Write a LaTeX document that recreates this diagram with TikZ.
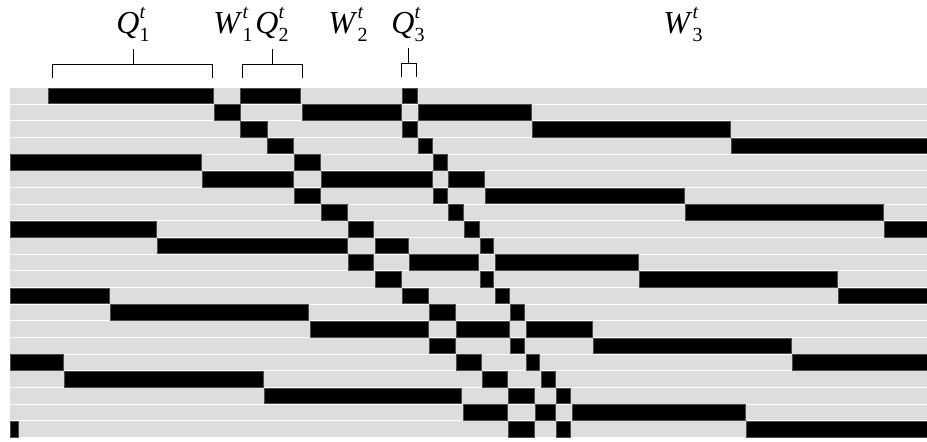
\documentclass[tikz,border=0pt]{standalone}
\usepackage{fontspec}
\setmainfont{Liberation Serif}

\definecolor{lanegray}{RGB}{221,221,221}

\tikzset{
  lane/.style={fill=lanegray},
  job/.style={fill=black,draw=black!70,line width=0.6pt},
  tag/.style={font=\fontsize{32}{36}\selectfont,anchor=base,inner sep=0pt},
  brk/.style={line width=0.8pt}
}

\newcommand\tagscript{\fontsize{20}{20}\selectfont}
\newcommand\qwlabel[3]{\textit{#1}\rlap{\raisebox{15pt}{\tagscript\itshape #2}}\raisebox{-8.5pt}{\tagscript #3}}
\newcommand\rowtop[1]{88+(#1-1)*16.67}

\begin{document}
\begin{tikzpicture}[x=1pt,y=-1pt]
\useasboundingbox (0,0) rectangle (927,442);

% lanes
\foreach \r in {1,...,21}
  \fill[lane] (10,{\rowtop{\r}}) rectangle (927,{\rowtop{\r}+15.6});

% busy intervals: row/start/end
\foreach \r/\a/\b in {1/48/213, 1/240/300, 1/402/417,
    2/214/240, 2/302/401, 2/418/531,
    3/240/267, 3/402/417, 3/532/730,
    4/267/293, 4/418/432, 4/731/927,
    5/10/201, 5/294/320, 5/433/447,
    6/202/293, 6/321/432, 6/448/484,
    7/294/320, 7/433/447, 7/485/684,
    8/321/347, 8/448/463, 8/685/883,
    9/10/156, 9/348/373, 9/464/479, 9/884/927,
    10/157/347, 10/375/408, 10/480/493,
    11/348/373, 11/409/478, 11/495/638,
    12/375/401, 12/480/493, 12/639/837,
    13/10/109, 13/402/428, 13/495/509, 13/838/927,
    14/110/308, 14/429/455, 14/510/524,
    15/310/428, 15/456/509, 15/526/592,
    16/429/455, 16/510/524, 16/593/791,
    17/10/63, 17/456/481, 17/526/539, 17/792/927,
    18/64/263, 18/482/507, 18/541/555,
    19/264/461, 19/508/534, 19/556/570,
    20/463/507, 20/535/555, 20/572/745,
    21/10/18, 21/508/534, 21/556/570, 21/746/927}
  \draw[job] (\a,{\rowtop{\r}}) rectangle (\b,{\rowtop{\r}+15.6});

% labels
\node[tag] (q1) at (133,33) {\qwlabel{Q}{t}{1}};
\node[tag] (w1) at (233,33) {\qwlabel{W}{t}{1}};
\node[tag] (q2) at (272,33) {\qwlabel{Q}{t}{2}};
\node[tag] (w2) at (348,33) {\qwlabel{W}{t}{2}};
\node[tag] (q3) at (408,33) {\qwlabel{Q}{t}{3}};
\node[tag] (w3) at (683,33) {\qwlabel{W}{t}{3}};

% brackets
\coordinate (q1l) at (52,78);
\coordinate (q1r) at (212,78);
\coordinate (q2l) at (242,78);
\coordinate (q2r) at (302,78);
\coordinate (q3l) at (401,77);
\coordinate (q3r) at (416,77);

\draw[brk] (q1l) -- ++(0,-14) -| (q1r);
\draw[brk] (q2l) -- ++(0,-14) -| (q2r);
\draw[brk] (q3l) -- ++(0,-14) -| (q3r);
\draw[brk] (q1 |- 0,49) -- (q1 |- 0,64);
\draw[brk] (q2 |- 0,49) -- (q2 |- 0,64);
\draw[brk] (q3 |- 0,48) -- (q3 |- 0,63);

\end{tikzpicture}
\end{document}
